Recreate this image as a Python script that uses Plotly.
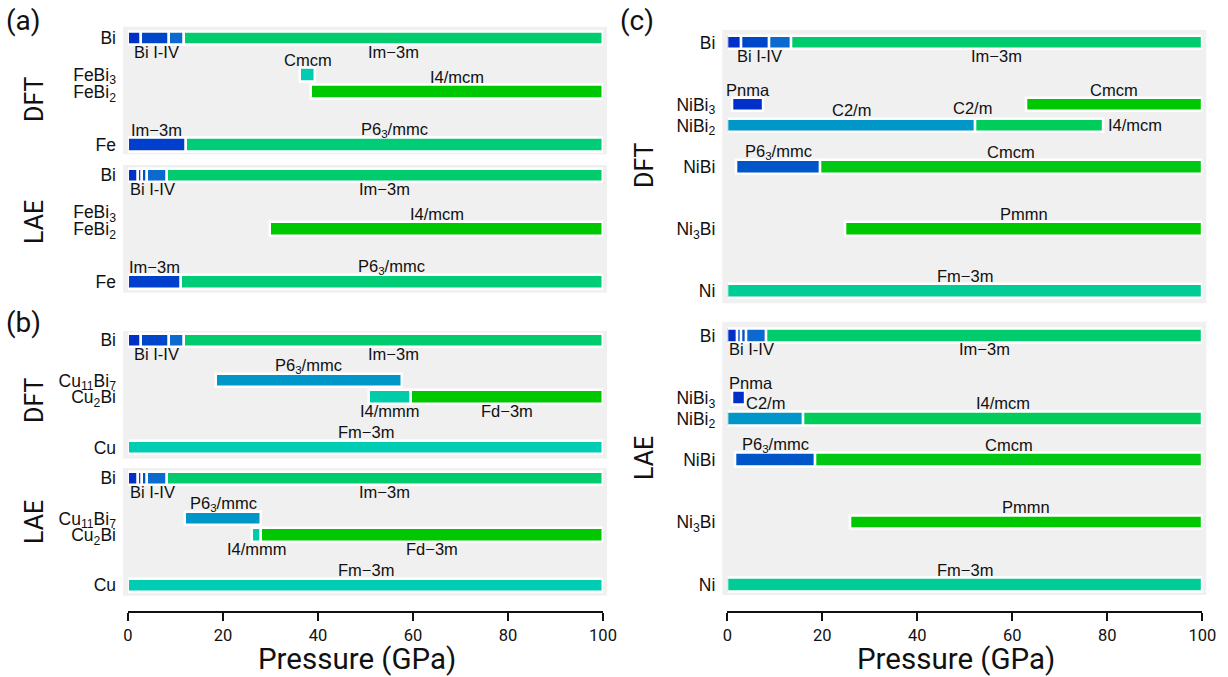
import re
import plotly.graph_objects as go

FIG_W, FIG_H = 1228, 677

# ---------------------------------------------------------------------------
# Stable phases along the pressure axis: (phase, start GPa, end GPa)
# ---------------------------------------------------------------------------
bi_dft_ab = [("Bi-I", 0, 2.8), ("Bi-II", 2.8, 8.7), ("Bi-IV", 8.7, 11.8), ("Im−3m", 11.8, 100)]
bi_dft_c = [("Bi-I", 0, 2.9), ("Bi-II", 2.9, 8.85), ("Bi-IV", 8.85, 13.45), ("Im−3m", 13.45, 100)]
bi_lae = [("Bi-I", 0, 2.1), ("Bi-II", 2.1, 2.9), ("Bi-III", 2.9, 3.9), ("Bi-IV", 3.9, 8.2), ("Im−3m", 8.2, 100)]

fe_dft = [
    ("Bi", bi_dft_ab),
    ("FeBi3", [("Cmcm", 36.3, 39.4)]),
    ("FeBi2", [("I4/mcm", 38.6, 100)]),
    ("Fe", [("Im−3m", 0, 12.2), ("P6<sub>3</sub>/mmc", 12.2, 100)]),
]
fe_lae = [
    ("Bi", bi_lae),
    ("FeBi3", []),
    ("FeBi2", [("I4/mcm", 29.9, 100)]),
    ("Fe", [("Im−3m", 0, 11.1), ("P6<sub>3</sub>/mmc", 11.1, 100)]),
]
cu_dft = [
    ("Bi", bi_dft_ab),
    ("Cu11Bi7", [("P6<sub>3</sub>/mmc", 18.5, 57.6)]),
    ("Cu2Bi", [("I4/mmm", 50.7, 59.6), ("Fd−3m", 59.6, 100)]),
    ("Cu", [("Fm−3m", 0, 100)]),
]
cu_lae = [
    ("Bi", bi_lae),
    ("Cu11Bi7", [("P6<sub>3</sub>/mmc", 12.1, 28.1)]),
    ("Cu2Bi", [("I4/mmm", 26.2, 28.1), ("Fd−3m", 28.1, 100)]),
    ("Cu", [("Fm−3m", 0, 100)]),
]
ni_dft = [
    ("Bi", bi_dft_c),
    ("NiBi3", [("Pnma", 1.1, 7.5), ("Cmcm", 63.0, 100)]),
    ("NiBi2", [("C2/m", 0, 52.3), ("I4/mcm", 52.3, 79.1)]),
    ("NiBi", [("P6<sub>3</sub>/mmc", 1.8, 19.6), ("Cmcm", 19.6, 100)]),
    ("Ni3Bi", [("Pmmn", 24.9, 100)]),
    ("Ni", [("Fm−3m", 0, 100)]),
]
ni_lae = [
    ("Bi", bi_lae),
    ("NiBi3", [("Pnma", 1.1, 3.75)]),
    ("NiBi2", [("C2/m", 0, 15.9), ("I4/mcm", 15.9, 100)]),
    ("NiBi", [("P6<sub>3</sub>/mmc", 1.6, 18.6), ("Cmcm", 18.6, 100)]),
    ("Ni3Bi", [("Pmmn", 25.8, 100)]),
    ("Ni", [("Fm−3m", 0, 100)]),
]

pressure_ticks = [0, 20, 40, 60, 80, 100]

# ---------------------------------------------------------------------------
# Styling
# ---------------------------------------------------------------------------
ROW_LEVELS = {
    "Fe": {"Bi": 3, "FeBi3": 1.97, "FeBi2": 1.49, "Fe": 0},
    "Cu": {"Bi": 3, "Cu11Bi7": 1.87, "Cu2Bi": 1.41, "Cu": 0},
    "Ni": {"Bi": 6, "NiBi3": 4.5, "NiBi2": 4, "NiBi": 3, "Ni3Bi": 1.5, "Ni": 0},
}

PHASE_COLORS = {
    ("Bi", "Bi-I"): "#0030c8",
    ("Bi", "Bi-II"): "#0046c8",
    ("Bi", "Bi-III"): "#0052cc",
    ("Bi", "Bi-IV"): "#0a6ad0",
    ("Bi", "Im−3m"): "#00cc6e",
    ("FeBi3", "Cmcm"): "#00ccb4",
    ("FeBi2", "I4/mcm"): "#00c800",
    ("Fe", "Im−3m"): "#003fcc",
    ("Fe", "P6<sub>3</sub>/mmc"): "#00cc78",
    ("Cu11Bi7", "P6<sub>3</sub>/mmc"): "#0096c8",
    ("Cu2Bi", "I4/mmm"): "#00ccaa",
    ("Cu2Bi", "Fd−3m"): "#00c800",
    ("Cu", "Fm−3m"): "#00ccb4",
    ("NiBi3", "Pnma"): "#0030c8",
    ("NiBi3", "Cmcm"): "#00c800",
    ("NiBi2", "C2/m"): "#0096c8",
    ("NiBi2", "I4/mcm"): "#00cc5a",
    ("NiBi", "P6<sub>3</sub>/mmc"): "#0055c8",
    ("NiBi", "Cmcm"): "#00c814",
    ("Ni3Bi", "Pmmn"): "#00c800",
    ("Ni", "Fm−3m"): "#00cc96",
}

# label placement relative to the bar: default above
LABEL_BELOW_ROWS = {"Bi", "Cu2Bi"}
LABEL_RIGHT = {("ni_dft", "NiBi2", "I4/mcm")}
EXTRA_LABELS = [("ni_dft", "NiBi2", "C2/m", 51.7)]
SHIFT_ABOVE, SHIFT_BELOW = 15, -14

LEFT_X = (128.0, 603.0)
RIGHT_X = (727.3, 1202.3)
PANELS = [
    dict(key="fe_dft", rows=fe_dft, sys="Fe", xpx=LEFT_X, ypx=(26.7, 154.3), yr=(-0.27, 3.32), thick=0.37),
    dict(key="fe_lae", rows=fe_lae, sys="Fe", xpx=LEFT_X, ypx=(165.0, 292.7), yr=(-0.30, 3.29), thick=0.37),
    dict(key="cu_dft", rows=cu_dft, sys="Cu", xpx=LEFT_X, ypx=(331.0, 458.5), yr=(-0.31, 3.26), thick=0.37),
    dict(key="cu_lae", rows=cu_lae, sys="Cu", xpx=LEFT_X, ypx=(468.0, 595.7), yr=(-0.29, 3.29), thick=0.37),
    dict(key="ni_dft", rows=ni_dft, sys="Ni", xpx=RIGHT_X, ypx=(30.0, 303.3), yr=(-0.29, 6.30), thick=0.33),
    dict(key="ni_lae", rows=ni_lae, sys="Ni", xpx=RIGHT_X, ypx=(321.7, 595.0), yr=(-0.25, 6.33), thick=0.33),
]

LABEL_FONT = dict(family="Liberation Sans, Arial, sans-serif", size=16.5, color="#111111")
ROW_FONT = dict(family="Liberation Sans, Arial, sans-serif", size=17.5, color="#111111")
BIG_FONT = "Roboto, sans-serif"
AXIS_Y_PX = 612.0


def chem(name):
    return re.sub(r"(\d+)", r"<sub>\1</sub>", name)


def text_width_px(txt, size):
    plain = re.sub(r"<[^>]+>", "", txt)
    em = sum(0.3 if c in "iIl -/|" else 0.6 for c in plain)
    return em * size


def px_to_paper_x(px):
    return px / FIG_W


def px_to_paper_y(py):
    return 1 - py / FIG_H


fig = go.Figure()
layout = {}
annotations = []
shapes = []

for i, p in enumerate(PANELS, start=1):
    sfx = "" if i == 1 else str(i)
    xname, yname = "x" + sfx, "y" + sfx
    levels = ROW_LEVELS[p["sys"]]
    x_lo, x_hi = p["xpx"]
    gpa_per_px = 100.0 / (x_hi - x_lo)

    bases, lengths, ys, colors = [], [], [], []
    for compound, segs in p["rows"]:
        lvl = levels[compound]
        for phase, start, end in segs:
            bases.append(start)
            lengths.append(end - start)
            ys.append(lvl)
            colors.append(PHASE_COLORS[(compound, phase)])

        # phase labels (Bi low-pressure phases share one label)
        groups = []
        for phase, start, end in segs:
            if phase.startswith("Bi-"):
                if groups and groups[-1][0] == "Bi I-IV":
                    groups[-1][2] = end
                else:
                    groups.append(["Bi I-IV", start, end, phase])
            else:
                groups.append([phase, start, end, phase])
        for label, start, end, phase in groups:
            if (p["key"], compound, phase) in LABEL_RIGHT:
                annotations.append(dict(
                    x=end, y=lvl, xref=xname, yref=yname, text=label, showarrow=False,
                    xanchor="left", yanchor="middle", xshift=3, font=LABEL_FONT))
                continue
            mid = 0.5 * (start + end)
            half = 0.5 * text_width_px(label, LABEL_FONT["size"]) * gpa_per_px
            shift = SHIFT_BELOW if compound in LABEL_BELOW_ROWS else SHIFT_ABOVE
            if mid - half < 0:
                xa, xv = "left", 0
            else:
                xa, xv = "center", mid
            annotations.append(dict(
                x=xv, y=lvl, xref=xname, yref=yname, text=label, showarrow=False,
                xanchor=xa, yanchor="middle", yshift=shift, font=LABEL_FONT))

    for key, compound, label, xv in EXTRA_LABELS:
        if key == p["key"]:
            annotations.append(dict(
                x=xv, y=levels[compound], xref=xname, yref=yname, text=label, showarrow=False,
                xanchor="center", yanchor="middle", yshift=SHIFT_ABOVE + 2, font=LABEL_FONT))

    fig.add_trace(go.Bar(
        orientation="h", base=bases, x=lengths, y=ys,
        width=[p["thick"]] * len(ys),
        marker=dict(color=colors, line=dict(color="white", width=2.5)),
        xaxis=xname, yaxis=yname, showlegend=False, hoverinfo="skip",
    ))

    # gray panel background, slightly wider than the 0-100 GPa range
    shapes.append(dict(
        type="rect", xref=xname + " domain", yref=yname + " domain",
        x0=-5.0 / (x_hi - x_lo), x1=1 + 4.0 / (x_hi - x_lo), y0=0, y1=1,
        fillcolor="#f0f0f0", line=dict(width=0), layer="below"))

    bottom = p["key"] in ("cu_lae", "ni_lae")
    xa = dict(
        domain=[px_to_paper_x(x_lo), px_to_paper_x(x_hi)], range=[0, 100],
        showgrid=False, zeroline=False, fixedrange=True, automargin=False,
    )
    if bottom:
        xa.update(
            anchor="free", position=px_to_paper_y(AXIS_Y_PX),
            showline=True, linecolor="#111111", linewidth=1.6,
            ticks="outside", ticklen=8, tickwidth=1.6, tickcolor="#111111",
            tickvals=pressure_ticks, ticktext=[str(t) for t in pressure_ticks],
            tickfont=dict(family=BIG_FONT, size=16.5, color="#111111"),
        )
        # axis title, centred slightly left of the axis middle
        annotations.append(dict(
            x=px_to_paper_x(0.5 * (x_lo + x_hi) - 9), y=px_to_paper_y(659),
            xref="paper", yref="paper", text="Pressure (GPa)", showarrow=False,
            xanchor="center", yanchor="middle",
            font=dict(family=BIG_FONT, size=29.5, color="#111111")))
    else:
        xa.update(anchor=yname, showline=False, ticks="", showticklabels=False)
    layout["xaxis" + sfx] = xa

    y_top, y_bot = p["ypx"]
    layout["yaxis" + sfx] = dict(
        domain=[px_to_paper_y(y_bot), px_to_paper_y(y_top)], range=list(p["yr"]),
        anchor=xname, showgrid=False, zeroline=False, showline=False, ticks="",
        tickvals=[levels[c] for c, _ in p["rows"]],
        ticktext=[chem(c) for c, _ in p["rows"]],
        tickfont=ROW_FONT, ticklabelstandoff=11, fixedrange=True, automargin=False,
    )

# method labels and panel letters
for txt, xpx, ypx in [("DFT", 34, 100), ("LAE", 34, 222), ("DFT", 34, 401),
                      ("LAE", 34, 522), ("DFT", 644, 166), ("LAE", 644, 458)]:
    annotations.append(dict(
        x=px_to_paper_x(xpx), y=px_to_paper_y(ypx), xref="paper", yref="paper",
        text=txt, textangle=-90, showarrow=False, xanchor="center", yanchor="middle",
        font=dict(family=BIG_FONT, size=25, color="#111111")))
for txt, xpx, ypx in [("(a)", 24, 21), ("(b)", 24, 322), ("(c)", 637, 21)]:
    annotations.append(dict(
        x=px_to_paper_x(xpx), y=px_to_paper_y(ypx), xref="paper", yref="paper",
        text=txt, showarrow=False, xanchor="center", yanchor="middle",
        font=dict(family=BIG_FONT, size=28, color="#111111")))

fig.update_layout(
    width=FIG_W, height=FIG_H, autosize=False,
    margin=dict(l=0, r=0, t=0, b=0, autoexpand=False),
    paper_bgcolor="white", plot_bgcolor="rgba(0,0,0,0)",
    barmode="overlay", bargap=0,
    annotations=annotations, shapes=shapes,
    **layout,
)

fig.write_html("out.html")
